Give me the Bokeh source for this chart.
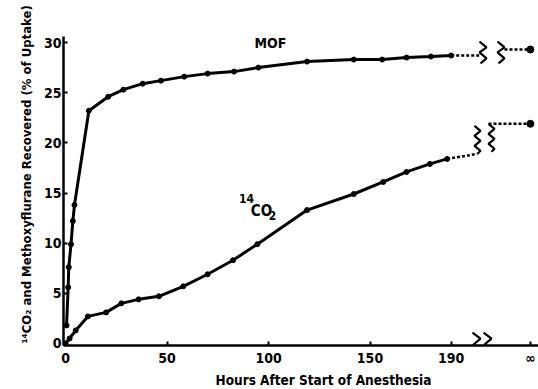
import math
from bokeh.plotting import figure
from bokeh.models import Label, FixedTicker, Title
from bokeh.embed import file_html
from bokeh.resources import INLINE

# ---- data ----
mof_hours = [0.5, 1.3, 1.6, 2.7, 3.6, 4.4, 11.5, 21, 28.5, 38, 47, 58.5, 70, 83, 95, 119, 142, 156, 168, 180, 190]
mof_pct = [1.8, 5.6, 7.6, 9.9, 12.2, 13.8, 23.2, 24.6, 25.3, 25.9, 26.2, 26.6, 26.9, 27.1, 27.5, 28.1, 28.3, 28.3, 28.5, 28.6, 28.7]
co2_hours = [0, 2, 5, 11, 20, 27.5, 36, 46, 58, 70, 82.5, 94.5, 119, 142, 156.5, 168, 179.5, 188]
co2_pct = [0, 0.5, 1.3, 2.7, 3.1, 4.0, 4.4, 4.7, 5.7, 6.9, 8.3, 9.9, 13.3, 14.9, 16.1, 17.1, 17.9, 18.4]
mof_final = 29.3   # value at infinity
co2_final = 21.9
x_ticks = [0, 50, 100, 150, 190]
y_ticks = [0, 5, 10, 15, 20, 25, 30]
INF_X = 229  # position used for the "infinity" column

FONT = "'DejaVu Sans Condensed', 'Liberation Sans Narrow', 'Liberation Sans'"

W, H = 538, 389
BL, BR, BT, BB = 63, 0, 36, 42
X0, X1 = -1, 233
Y0, Y1 = -0.2, 30.6
XK = (W - BL - BR) / (X1 - X0)
YK = (H - BT - BB) / (Y1 - Y0)

p = figure(width=W, height=H, x_range=(X0, X1), y_range=(Y0, Y1),
           output_backend="svg", toolbar_location=None,
           min_border_left=BL, min_border_right=BR, min_border_top=BT, min_border_bottom=BB)
p.grid.visible = False
p.outline_line_color = None
p.background_fill_color = "white"
p.border_fill_color = "white"

for ax in (p.xaxis[0], p.yaxis[0]):
    ax.axis_line_width = 2.5
    ax.axis_line_color = "black"
    ax.major_tick_in = 4
    ax.major_tick_out = 0
    ax.minor_tick_in = 0
    ax.minor_tick_out = 0
    ax.major_tick_line_width = 2
    ax.major_label_text_font = FONT
    ax.major_label_text_font_style = "bold"
    ax.major_label_text_font_size = "14px"
    ax.major_label_text_color = "black"

p.xaxis.ticker = FixedTicker(ticks=x_ticks + [INF_X])
p.xaxis.major_label_overrides = {INF_X: "\u221e"}
p.xaxis.major_label_standoff = 4
p.yaxis.ticker = FixedTicker(ticks=y_ticks)
p.yaxis.major_label_standoff = 2


def px2data(h0, v0, pts):
    xs = [h0 + dx / XK for dx, dy in pts]
    ys = [v0 - dy / YK for dx, dy in pts]
    return xs, ys


def page2data(px, py):
    # reference pixel -> data
    return X0 + (px - BL) / XK, Y1 - (py - BT) / YK


# main curves
p.line(mof_hours, mof_pct, line_width=3, color="black")
p.scatter(mof_hours, mof_pct, size=5, color="black")
p.line(co2_hours, co2_pct, line_width=3, color="black")
p.scatter(co2_hours, co2_pct, size=5, color="black")

# dotted extensions up to the break
mof_break_l = page2data(480, 0)[0]
co2_break_l = page2data(477, 0)[0]
p.line([mof_hours[-1], mof_break_l], [mof_pct[-1], mof_pct[-1]], line_width=2.5, color="black", line_dash="3 2")
p.line([co2_hours[-1], co2_break_l], [co2_pct[-1], co2_pct[-1] + 0.5], line_width=2.5, color="black", line_dash="3 2")

# after the break
mof_break_r = page2data(504, 0)[0]
co2_break_r = page2data(488, 0)[0]
p.line([mof_break_r, INF_X], [mof_final, mof_final], line_width=2.5, color="black", line_dash="3 2")
p.line([co2_break_r, INF_X], [co2_final, co2_final], line_width=2.5, color="black", line_dash="3 2")
p.scatter([INF_X, INF_X], [mof_final, co2_final], size=7, color="black")

# break marks (zigzags), given as pixel shapes
zig5 = [(0, 0), (7, 6), (0, 11), (7, 17), (1, 22)]
zig7 = [(0, 0), (6, 5), (0, 10), (6, 15), (0, 20), (6, 25), (3, 28)]
zigx = [(0, 0), (8, 6), (1, 12), (8, 18), (1, 24)]
for (ax_, ay_), shape in [((479, 41), zig5), ((497, 41), zig5),
                          ((474, 126), zig7), ((488, 124), zig7),
                          ((472, 334), zigx), ((483, 334), zigx)]:
    h0, v0 = page2data(ax_, ay_)
    xs, ys = px2data(h0, v0, shape)
    p.line(xs, ys, line_width=2.2, color="black")

# curve labels
def add_text(px, py, text, size, angle=0):
    h, v = page2data(px, py)
    p.add_layout(Label(x=h, y=v, text=text, text_font=FONT, text_font_style="bold",
                       text_font_size=size, text_align="center", text_baseline="middle",
                       angle=angle, text_color="black"))

add_text(270, 43, "MOF", "14px")
add_text(246, 199, "14", "12px")
add_text(261, 212, "CO", "15px")
add_text(272, 216, "2", "12px")

# axis titles (as side-panel titles so they are not clipped by the frame)
xt = Title(text="Hours After Start of Anesthesia",
           align="left", offset=152, standoff=3,
           text_font=FONT, text_font_style="bold", text_font_size="13.5px", text_color="black")
p.add_layout(xt, "below")
yt = Title(text="\u00b9\u2074CO\u2082 and Methoxyflurane Recovered (% of Uptake)",
           align="left", offset=2, standoff=14,
           text_font=FONT, text_font_style="bold", text_font_size="13px", text_color="black")
p.add_layout(yt, "left")

open("out.html", "w").write(file_html(p, INLINE))
